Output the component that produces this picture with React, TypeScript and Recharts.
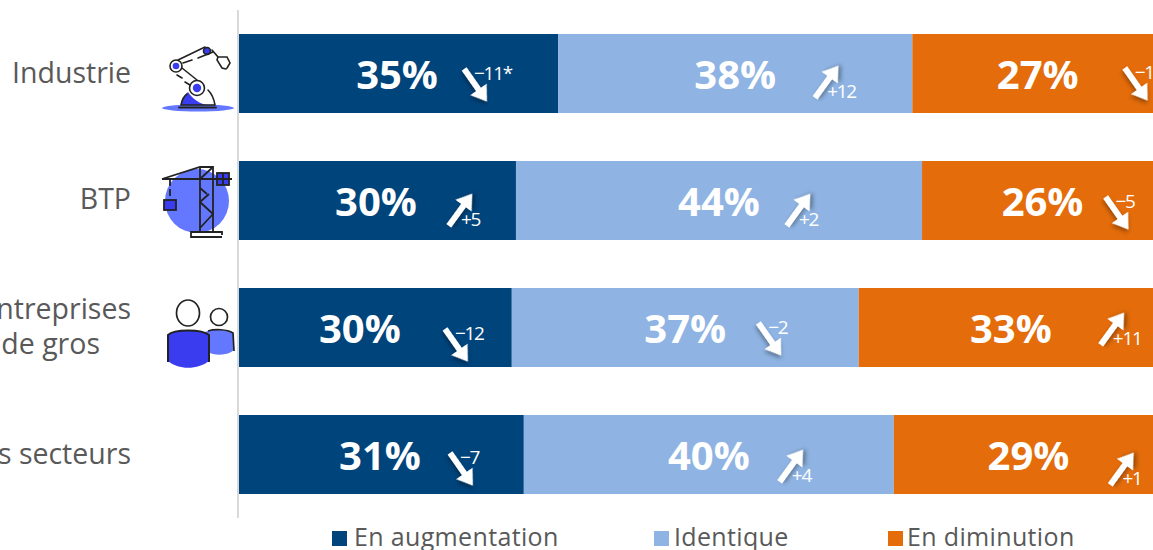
import React from 'react';
import { BarChart, Bar, XAxis, YAxis, LabelList, Legend } from 'recharts';

const categories = ['Industrie', 'BTP', 'Entreprises\nde gros', 'Tous secteurs'];
const augmentation = [34.6, 30.05, 29.6, 30.9];
const identique = [38.3, 43.9, 37.5, 40];
const diminution = [27.1, 26.05, 32.9, 29.1];

const augmentationPct = ['35%', '30%', '30%', '31%'];
const identiquePct = ['38%', '44%', '37%', '40%'];
const diminutionPct = ['27%', '26%', '33%', '29%'];

const augmentationDelta = ['-11*', '+5', '-12', '-7'];
const identiqueDelta = ['+12', '+2', '-2', '+4'];
const diminutionDelta = ['-1', '-5', '+11', '+1'];

const legendItems = [
  { label: 'En augmentation', color: '#00447C', x: 332, textX: 354 },
  { label: 'Identique', color: '#8FB4E3', x: 654, textX: 674 },
  { label: 'En diminution', color: '#E46C0A', x: 888, textX: 907 },
];

// arrow centre relative to the centre of its segment
const augmentationArrow = [[77, 11], [83, 10], [81, 17], [80, 14]];
const identiqueArrow = [[91, 9], [79, 10], [84, 11], [82, 12]];
const diminutionArrow = [[98, 10], [74, 12], [101, 2], [93, 15]];
// only one label sits off centre
const augmentationLabelShift = [-1, -1, -15, -1];

const data = categories.map((name, i) => ({
  name,
  augmentation: augmentation[i],
  identique: identique[i],
  diminution: diminution[i],
}));

const FONT = '"Open Sans", "Noto Sans", sans-serif';
const TEXT = '#595959';
const INK = '#222';
const BLUE = '#3A3CF0';
const LIGHT = '#6478FF';

const RobotIcon = () => (
  <g fill="none" stroke={INK} strokeWidth={1.6} strokeLinecap="round">
    <ellipse cx={36} cy={35} rx={36} ry={3.5} fill={LIGHT} stroke="none" />
    <path d="M19 32 C20 26 23 22 26 19 C30 25 36 30 44 32Z" fill={BLUE} stroke="none" />
    <path d="M19 32 C20 27 22 23 25 21 M53 32 C52 26 50 21 46 17 M19 32 H53" />
    <line x1={17} y1={34.5} x2={54} y2={34.5} strokeWidth={1.8} />
    <circle cx={35} cy={15} r={7.5} fill="#fff" />
    <circle cx={35} cy={15} r={4.2} fill={BLUE} stroke="none" />
    <circle cx={14} cy={-7} r={6} fill="#fff" />
    <circle cx={14} cy={-7} r={3.3} fill={BLUE} stroke="none" />
    <circle cx={45} cy={-22} r={3.5} fill={BLUE} />
    <path d="M16 -13 L43 -26 M21 -10 L30 -13 M36 -15 L51 -21 M20 -5 L35 7 M15 2 L20 5 M23 9 L28 12" />
    <path d="M50 -23 L56 -16 L55 -13 L60 -5 L64 -4 M56 -16 H65 L68 -10 L65 -5" />
  </g>
);

const CraneIcon = () => (
  <g fill="none" stroke={INK} strokeWidth={1.8}>
    <circle cx={35} cy={1} r={32} fill={LIGHT} stroke="none" />
    <path d="M0 -21 H70 M0 -21 L38 -33 H51 V32 M38 -33 V32" />
    <path d="M38 -21 L51 -33 M38 -12 L45 -6 M38 2 L51 14 M51 14 L38 28 M38 2 L47 -6" />
    <rect x={55} y={-27} width={12} height={12} fill={BLUE} />
    <path d="M61 -27 V-15 M55 -21 H67" />
    <path d="M8 -21 V-1" strokeDasharray="7 3" />
    <rect x={2} y={0} width={12} height={10} fill={BLUE} />
    <path d="M60 37 H29 V32 H60 V35" />
  </g>
);

const PeopleIcon = () => (
  <g stroke={INK} strokeWidth={1.7}>
    <circle cx={57} cy={-14} r={8.5} fill="#fff" />
    <path d="M43 1 C50 -2 65 -2 71 2 L72 19 C66 25 52 25 43 20Z" fill={LIGHT} stroke="none" />
    <path d="M46 0 C52 -2 65 -2 71 2 L72 20" fill="none" />
    <ellipse cx={26} cy={-18} rx={11.5} ry={13} fill="#fff" />
    <path d="M6 4 C12 -2 40 -2 47 4 L47 30 C36 39 16 39 6 30Z" fill={BLUE} stroke="none" />
    <path d="M6 31 V4 C12 -2 40 -2 47 4 V31" fill="none" strokeWidth={2} />
  </g>
);

const icons = [<RobotIcon />, <CraneIcon />, <PeopleIcon />, null];
const iconTop = [73, 200, 331, 454];
const lineBaseline = [[9], [8], [-9, 26], [9]];
const lineRight = [[131], [131], [131, 100], [131]];

const CategoryTick = (props: any) => {
  const { y, payload, index } = props;
  const lines = String(payload.value).split('\n');
  return (
    <g>
      {lines.map((line: string, i: number) => (
        <text
          key={line}
          x={lineRight[index][i]}
          y={y + lineBaseline[index][i]}
          textAnchor="end"
          fontFamily={FONT}
          fontSize={28.5}
          fill={TEXT}
        >
          {line}
        </text>
      ))}
      {icons[index] && <g transform={`translate(162 ${iconTop[index]})`}>{icons[index]}</g>}
    </g>
  );
};

const makeLabel = (pct: string[], delta: string[], arrow: number[][], shift?: number[]) => (props: any) => {
  const { x, y, width, height, index } = props;
  const cx = x + width / 2;
  const cy = y + height / 2;
  const ax = cx + arrow[index][0];
  const ay = cy + arrow[index][1];
  const down = delta[index].startsWith('-');
  const rot = down ? 55 : -54;
  return (
    <g>
      <text
        x={cx + (shift ? shift[index] : 0)}
        y={cy + 15}
        textAnchor="middle"
        fontFamily={FONT}
        fontWeight={700}
        fontSize={40}
        fill="#fff"
      >
        {pct[index]}
      </text>
      <g
        transform={`translate(${ax} ${ay}) rotate(${rot})`}
        style={{ filter: 'drop-shadow(2px 2px 2px rgba(0,0,0,0.35))' }}
      >
        <path d="M-19 -3 L6 -3 L6 -10 L21 0 L6 10 L6 3 L-19 3Z" fill="#fff" />
      </g>
      <text
        x={ax + (down ? -1 : 1)}
        y={ay + (down ? -5 : 15)}
        fontFamily={FONT}
        fontSize={19}
        letterSpacing={-1.3}
        fill="#fff"
      >
        {delta[index].replace('-', '\u2212')}
      </text>
    </g>
  );
};

const ChartLegend = () => (
  <svg width={1153} height={30} style={{ display: 'block', overflow: 'visible' }}>
    {legendItems.map((item) => (
      <g key={item.label}>
        <rect x={item.x} y={11} width={15} height={15} fill={item.color} />
        <text x={item.textX} y={26} fontFamily={FONT} fontSize={25} letterSpacing={0.35} fill={TEXT}>
          {item.label}
        </text>
      </g>
    ))}
  </svg>
);

export default function App() {
  return (
    <div style={{ position: 'absolute', left: 0, top: 0, width: 1153, height: 550, overflow: 'hidden', background: '#fff' }}>
      <BarChart
        width={1163}
        height={550}
        data={data}
        layout="vertical"
        barCategoryGap={24}
        margin={{ top: 10, right: 0, bottom: 2, left: 0 }}
      >
        <XAxis type="number" domain={[0, 100]} hide />
        <YAxis
          type="category"
          dataKey="name"
          width={238}
          axisLine={{ stroke: '#D9D9D9', strokeWidth: 2 }}
          tickLine={false}
          tick={<CategoryTick />}
          interval={0}
        />
        <Legend
          content={<ChartLegend />}
          wrapperStyle={{ left: 0, bottom: 0, width: 1153, height: 30 }}
        />
        <Bar dataKey="augmentation" stackId="a" fill="#00447C" isAnimationActive={false}>
          <LabelList content={makeLabel(augmentationPct, augmentationDelta, augmentationArrow, augmentationLabelShift)} />
        </Bar>
        <Bar dataKey="identique" stackId="a" fill="#8FB4E3" isAnimationActive={false}>
          <LabelList content={makeLabel(identiquePct, identiqueDelta, identiqueArrow)} />
        </Bar>
        <Bar dataKey="diminution" stackId="a" fill="#E46C0A" isAnimationActive={false}>
          <LabelList content={makeLabel(diminutionPct, diminutionDelta, diminutionArrow)} />
        </Bar>
      </BarChart>
    </div>
  );
}
